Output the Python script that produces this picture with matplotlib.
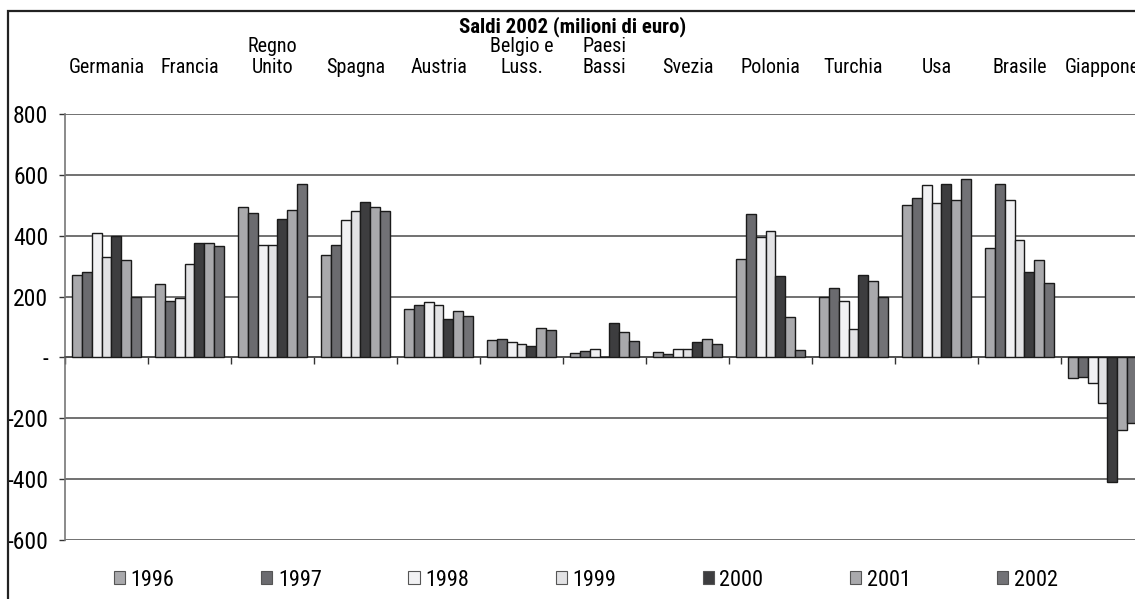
import matplotlib
matplotlib.use('Agg')
import matplotlib.pyplot as plt
from matplotlib.patches import Patch, Rectangle
import numpy as np

plt.rcParams['font.family'] = ['Roboto Condensed', 'Roboto', 'DejaVu Sans']

# categories (countries) and series (years)
countries = ['Germania', 'Francia', 'Regno\nUnito', 'Spagna', 'Austria', 'Belgio e\nLuss.',
             'Paesi\nBassi', 'Svezia', 'Polonia', 'Turchia', 'Usa', 'Brasile', 'Giappone']
years = ['1996', '1997', '1998', '1999', '2000', '2001', '2002']

v1996 = [270, 240, 495, 336, 160, 56, 15, 18, 325, 200, 500, 361, -69]
v1997 = [281, 185, 476, 370, 171, 61, 22, 12, 471, 227, 525, 570, -63]
v1998 = [410, 195, 369, 452, 182, 52, 27, 27, 396, 185, 567, 516, -83]
v1999 = [330, 306, 369, 482, 171, 43, 2, 27, 416, 95, 506, 385, -149]
v2000 = [400, 376, 455, 510, 127, 36, 113, 52, 267, 270, 570, 282, -409]
v2001 = [321, 376, 486, 495, 151, 97, 82, 61, 132, 251, 516, 321, -238]
v2002 = [200, 366, 571, 482, 137, 91, 53, 43, 26, 200, 585, 245, -216]
series = [v1996, v1997, v1998, v1999, v2000, v2001, v2002]

colors = ['#a9a9ac', '#6b6b6f', '#f1f1f3', '#e2e2e4', '#3d3d3f', '#a9a9ac', '#727276']

yticks = [800, 600, 400, 200, 0, -200, -400, -600]
ylabels = ['800', '600', '400', '200', '-', '-200', '-400', '-600']

W, H = 1135, 599
fig = plt.figure(figsize=(W / 100, H / 100), dpi=100)
ax = fig.add_axes([65 / W, 1 - 540 / H, (1144 - 65) / W, 426 / H])

x = np.arange(len(countries))
bw = 0.119
for i, (vals, c) in enumerate(zip(series, colors)):
    ax.bar(x + (i - 3) * bw, vals, width=bw, color=c, edgecolor='#1a1a1a',
           linewidth=1.0, zorder=3)

ax.set_xlim(-0.5, len(countries) - 0.5)
ax.set_ylim(-600, 800)
ax.set_yticks(yticks)
ax.set_yticklabels(ylabels, fontsize=17)
for y in yticks:
    ax.axhline(y, color='#4a4a4a', lw=1.1, zorder=1)

ax.spines['top'].set_visible(False)
ax.spines['right'].set_visible(False)
ax.spines['left'].set_color('#777777')
ax.spines['left'].set_linewidth(1.2)
ax.spines['bottom'].set_position(('data', 0))
ax.spines['bottom'].set_color('#4a4a4a')
ax.spines['bottom'].set_linewidth(1.1)
ax.set_xticks(np.arange(len(countries) + 1) - 0.5)
ax.set_xticklabels([])
ax.tick_params(axis='x', length=5, width=1, color='#333333', direction='out')
ax.tick_params(axis='y', length=4, width=1, color='#333333', pad=8)

# country labels above the plot
for xi, name in zip(x, countries):
    ax.text(xi, 1.087, name, transform=ax.get_xaxis_transform(), ha='center', va='bottom',
            fontsize=14.5, multialignment='center', linespacing=1.1)

fig.text(573 / W, 1 - 27 / H, 'Saldi 2002 (milioni di euro)', ha='center', va='center',
         fontsize=15, fontweight='bold')

handles = [Patch(facecolor=c, edgecolor='#555555', linewidth=0.8) for c in colors]
fig.legend(handles, years, loc='center', bbox_to_anchor=(586 / W, 1 - 580 / H), ncol=7,
           frameon=False, fontsize=16, handlelength=0.5, handleheight=0.5,
           handletextpad=0.25, columnspacing=3.9)

fig.add_artist(Rectangle((8 / W, -0.1), 2, 1.1 - 11 / H, transform=fig.transFigure,
                         fill=False, edgecolor='#222222', linewidth=1.6))

fig.savefig('out.png', dpi=100)
